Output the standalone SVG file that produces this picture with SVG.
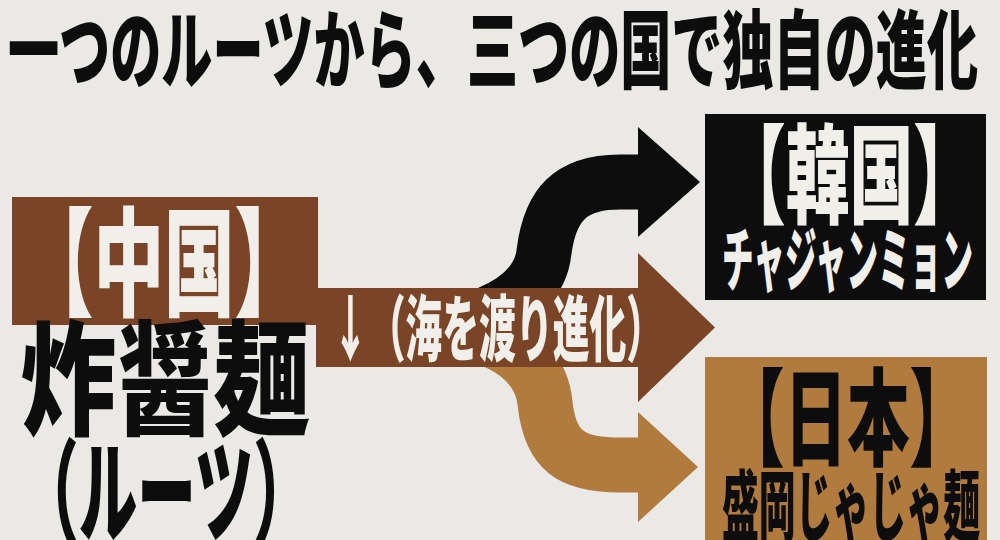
<svg xmlns="http://www.w3.org/2000/svg" width="1000" height="540" viewBox="0 0 1000 540">
<style>
.t{font-family:"Noto Sans CJK JP","Noto Sans CJK SC",sans-serif;font-weight:900}
.w{fill:#f1efea}
.k{fill:#0d0d0d}
</style>
<rect width="1000" height="540" fill="#eae9e5"/>
<g id="title">
<text class="t k" x="8" y="82" font-size="86" textLength="970" lengthAdjust="spacingAndGlyphs">一つのルーツから、三つの国で独自の進化</text>
</g>
<g id="connectors">
<path d="M380 332 C455 332 538 310 544 252 C550 205 570 182 620 182 L640 182" fill="none" stroke="#0d0d0d" stroke-width="55"/>
<polygon points="638,127 700,182 638,237" fill="#0d0d0d"/>
<path d="M400 325 C480 325 540 350 545 403 C550 450 570 465 620 465 L640 465" fill="none" stroke="#b07b3d" stroke-width="55"/>
<polygon points="638,412 698,467 638,522" fill="#b07b3d"/>
<path d="M316 288 H638 V253 L715 327.5 L638 402 V367 H316 Z" fill="#7a4526"/>
<text class="t w" x="332" y="355" font-size="72" textLength="331" lengthAdjust="spacingAndGlyphs">↓（海を渡り進化）</text>
</g>
<g id="china">
<rect x="12" y="197" width="306" height="128" fill="#7a4526"/>
<text class="t w" x="23" y="307" font-size="118" textLength="282" lengthAdjust="spacingAndGlyphs">【中国】</text>
<text class="t k" x="20" y="425" font-size="124" textLength="290" lengthAdjust="spacingAndGlyphs">炸醤麺</text>
<text class="t k" x="20" y="534" font-size="112" textLength="292" lengthAdjust="spacingAndGlyphs">（ルーツ）</text>
</g>
<g id="korea">
<rect x="705" y="114" width="281" height="186" fill="#0d0d0d"/>
<text class="t w" x="722" y="215" font-size="108" textLength="255" lengthAdjust="spacingAndGlyphs">【韓国】</text>
<text class="t w" x="722" y="286" font-size="70" textLength="251" lengthAdjust="spacingAndGlyphs">チャジャンミョン</text>
</g>
<g id="japan">
<rect x="705" y="357" width="282" height="183" fill="#b07b3d"/>
<text class="t k" x="722" y="457" font-size="106" textLength="250" lengthAdjust="spacingAndGlyphs">【日本】</text>
<text class="t k" x="722" y="535" font-size="77" textLength="258" lengthAdjust="spacingAndGlyphs">盛岡じゃじゃ麺</text>
</g>
</svg>
